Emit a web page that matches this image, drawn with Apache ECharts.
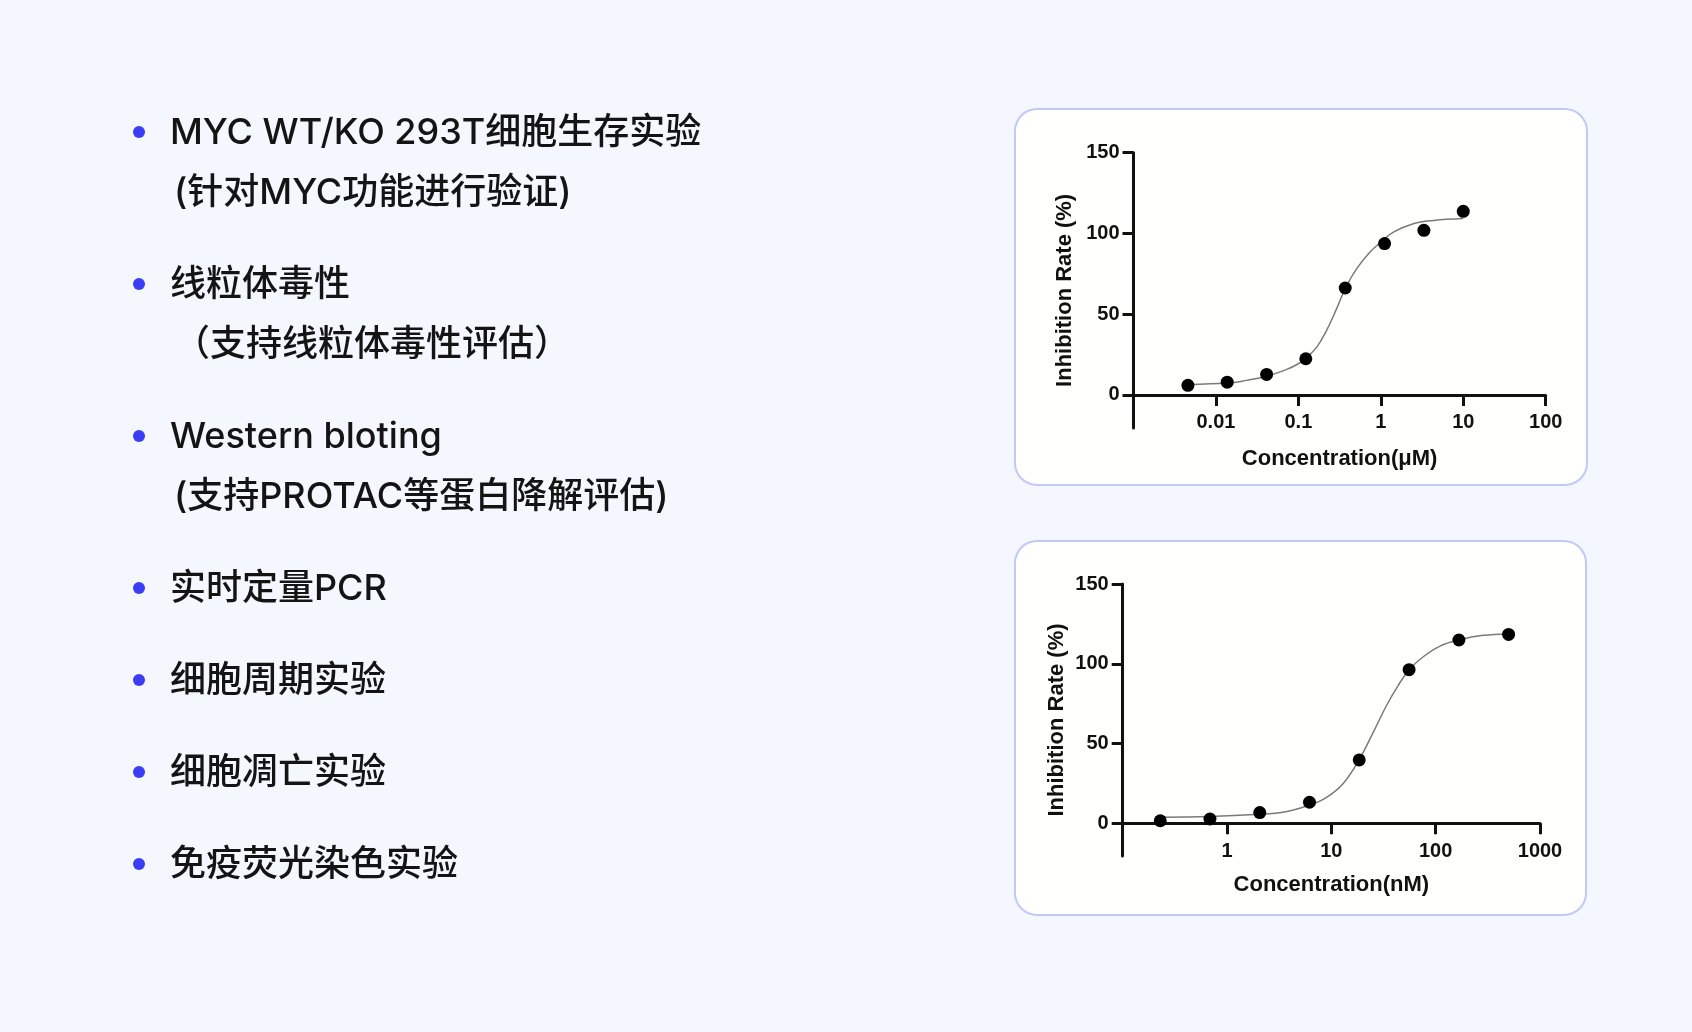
<!DOCTYPE html>
<html>
<head>
<meta charset="utf-8">
<title>Assays</title>
<script src="https://cdn.jsdelivr.net/npm/echarts@6/dist/echarts.min.js"></script>
<style>
  html, body { margin: 0; padding: 0; background: #f4f7fe; }
  #main { width: 1692px; height: 1032px; }
</style>
</head>
<body>
<div id="main"></div>
<script>
// left list
var items = ['MYC WT/KO 293T细胞生存实验', '线粒体毒性', 'Western bloting', '实时定量PCR', '细胞周期实验', '细胞凋亡实验', '免疫荧光染色实验'];
var notes = ['(针对MYC功能进行验证)', '（支持线粒体毒性评估）', '(支持PROTAC等蛋白降解评估)'];

// chart 1 (uM)
var concUM = [0.00457, 0.0137, 0.0412, 0.123, 0.37, 1.11, 3.33, 10];
var rateUM = [5.9, 7.9, 12.7, 22.4, 66.2, 93.7, 101.9, 113.7];
var fitConcUM = [0.00462, 0.0139, 0.0235, 0.0412, 0.0722, 0.1, 0.121, 0.167, 0.22, 0.291, 0.372, 0.51, 0.74, 1, 1.42, 2.48, 4.34, 10];
var fitRateUM = [6.5, 7.3, 9.0, 11.5, 15.8, 19.3, 22.4, 29.6, 40, 53.4, 66.2, 78.2, 88.5, 94.6, 100.8, 106, 108, 109.2];

// chart 2 (nM)
var concNM = [0.229, 0.686, 2.06, 6.17, 18.5, 55.6, 167, 500];
var rateNM = [1.6, 2.7, 6.7, 13.2, 39.7, 96.3, 114.9, 118.4];
var fitConcNM = [0.229, 0.682, 2.06, 3.45, 6.22, 9.0, 13, 18.4, 25.2, 33.9, 43.8, 55.8, 76, 110, 167, 286, 498];
var fitRateNM = [3.8, 4.2, 5.6, 6.9, 11.5, 16.3, 25, 39.7, 57, 74, 86.5, 96.3, 104.4, 111.1, 114.9, 117.8, 118.7];

var yTicks = [0, 50, 100, 150];
var yMin = -20.5, yMax = 150;

var chart = echarts.init(document.getElementById('main'));

var axisFont = '"Liberation Sans", Arial, sans-serif';
var textFont = 'Inter, "Noto Sans CJK SC", sans-serif';

var grids = [
    { left: 1133.5, top: 152.7, width: 412.2, height: 275.3 },
    { left: 1122.7, top: 584, width: 417.3, height: 272 }
];

function pairs(xs, ys) {
    return xs.map(function (x, i) { return [x, ys[i]]; });
}

var graphics = [];
// cards
graphics.push({ type: 'rect', z: -10, shape: { x: 1015, y: 109, width: 572, height: 376, r: 22 },
    style: { fill: '#fffffd', stroke: '#c2c8f7', lineWidth: 2 } });
graphics.push({ type: 'rect', z: -10, shape: { x: 1015, y: 541, width: 571, height: 374, r: 22 },
    style: { fill: '#fffffd', stroke: '#c2c8f7', lineWidth: 2 } });

// bullets + text
var y = 133;
items.forEach(function (t, i) {
    graphics.push({ type: 'circle', shape: { cx: 139, cy: y - 1, r: 6 }, style: { fill: '#3b3cf4' } });
    graphics.push({ type: 'text', x: 170, y: y,
        style: { text: t, font: '500 36px ' + textFont, fill: '#141414', verticalAlign: 'middle' } });
    if (notes[i]) {
        graphics.push({ type: 'text', x: 174, y: y + 60,
            style: { text: notes[i], font: '500 36px ' + textFont, fill: '#141414', verticalAlign: 'middle' } });
        y += 152;
    } else {
        y += 92;
    }
});

// x axis sits on y = 0: shift it up from the grid bottom
function zeroOffset(idx) {
    return -grids[idx].height * (0 - yMin) / (yMax - yMin);
}

function xAxisOf(idx, min, max, name, nameGap) {
    return {
        type: 'log', gridIndex: idx, logBase: 10, min: min, max: max, splitNumber: Math.round(Math.log10(max / min)),
        position: 'bottom', offset: zeroOffset(idx),
        name: name, nameLocation: 'middle', nameGap: nameGap,
        nameTextStyle: { fontFamily: axisFont, fontWeight: 'bold', fontSize: 22, color: '#111' },
        axisLine: { onZero: false, lineStyle: { color: '#111', width: 3 } },
        axisTick: { length: 11, lineStyle: { color: '#111', width: 3 } },
        axisLabel: { margin: 18, fontFamily: axisFont, fontWeight: 'bold', fontSize: 20, color: '#111',
            formatter: function (v) { return v <= min * 1.001 ? '' : String(+v.toPrecision(6)); } },
        splitLine: { show: false }
    };
}

function yAxisOf(idx, nameGap) {
    return {
        type: 'value', gridIndex: idx, min: yMin, max: yMax,
        name: 'Inhibition Rate (%)', nameLocation: 'middle', nameGap: nameGap,
        nameTextStyle: { fontFamily: axisFont, fontWeight: 'bold', fontSize: 22, color: '#111' },
        axisLine: { show: true, onZero: false, lineStyle: { color: '#111', width: 3 } },
        axisTick: { show: true, length: 11, customValues: yTicks, lineStyle: { color: '#111', width: 3 } },
        axisLabel: { margin: 14, customValues: yTicks, fontFamily: axisFont, fontWeight: 'bold', fontSize: 20, color: '#111' },
        splitLine: { show: false }
    };
}

function fitSeries(idx, xs, ys) {
    return { type: 'line', xAxisIndex: idx, yAxisIndex: idx, data: pairs(xs, ys), smooth: 0.4,
        showSymbol: false, lineStyle: { color: '#7a7a7a', width: 1.5 }, z: 2, silent: true };
}

function dotSeries(idx, xs, ys) {
    return { type: 'scatter', xAxisIndex: idx, yAxisIndex: idx, data: pairs(xs, ys),
        symbolSize: 13, itemStyle: { color: '#000', opacity: 1 }, z: 3 };
}

chart.setOption({
    animation: false,
    backgroundColor: '#f4f7fe',
    graphic: { elements: graphics },
    grid: grids,
    xAxis: [
        xAxisOf(0, 0.001, 100, 'Concentration(μM)', 53),
        xAxisOf(1, 0.1, 1000, 'Concentration(nM)', 51)
    ],
    yAxis: [yAxisOf(0, 58), yAxisOf(1, 55)],
    series: [
        fitSeries(0, fitConcUM, fitRateUM),
        dotSeries(0, concUM, rateUM),
        fitSeries(1, fitConcNM, fitRateNM),
        dotSeries(1, concNM, rateNM)
    ]
});
</script>
</body>
</html>
